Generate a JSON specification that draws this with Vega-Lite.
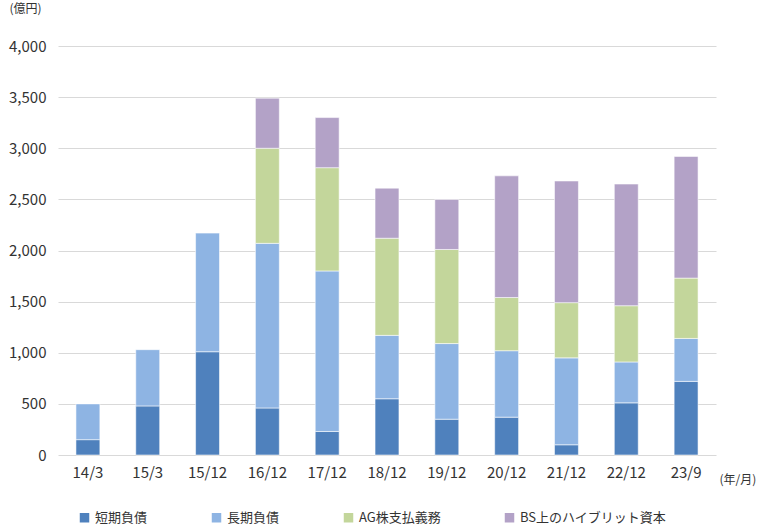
{
  "$schema": "https://vega.github.io/schema/vega-lite/v6.json",
  "width": 658,
  "height": 409,
  "autosize": {"type": "none"},
  "padding": {"left": 58, "top": 46, "right": 44, "bottom": 77},
  "background": "white",
  "config": {
    "view": {"stroke": null},
    "font": "Noto Sans CJK JP"
  },
  "data": {
    "values": [
      {"period": "14/3", "type": "短期負債", "k": 1, "value": 150},
      {"period": "14/3", "type": "長期負債", "k": 2, "value": 350},
      {"period": "15/3", "type": "短期負債", "k": 1, "value": 480},
      {"period": "15/3", "type": "長期負債", "k": 2, "value": 550},
      {"period": "15/12", "type": "短期負債", "k": 1, "value": 1010},
      {"period": "15/12", "type": "長期負債", "k": 2, "value": 1160},
      {"period": "16/12", "type": "短期負債", "k": 1, "value": 460},
      {"period": "16/12", "type": "長期負債", "k": 2, "value": 1610},
      {"period": "16/12", "type": "AG株支払義務", "k": 3, "value": 930},
      {"period": "16/12", "type": "BS上のハイブリット資本", "k": 4, "value": 490},
      {"period": "17/12", "type": "短期負債", "k": 1, "value": 230},
      {"period": "17/12", "type": "長期負債", "k": 2, "value": 1570},
      {"period": "17/12", "type": "AG株支払義務", "k": 3, "value": 1010},
      {"period": "17/12", "type": "BS上のハイブリット資本", "k": 4, "value": 490},
      {"period": "18/12", "type": "短期負債", "k": 1, "value": 550},
      {"period": "18/12", "type": "長期負債", "k": 2, "value": 620},
      {"period": "18/12", "type": "AG株支払義務", "k": 3, "value": 950},
      {"period": "18/12", "type": "BS上のハイブリット資本", "k": 4, "value": 490},
      {"period": "19/12", "type": "短期負債", "k": 1, "value": 350},
      {"period": "19/12", "type": "長期負債", "k": 2, "value": 740},
      {"period": "19/12", "type": "AG株支払義務", "k": 3, "value": 920},
      {"period": "19/12", "type": "BS上のハイブリット資本", "k": 4, "value": 490},
      {"period": "20/12", "type": "短期負債", "k": 1, "value": 370},
      {"period": "20/12", "type": "長期負債", "k": 2, "value": 650},
      {"period": "20/12", "type": "AG株支払義務", "k": 3, "value": 520},
      {"period": "20/12", "type": "BS上のハイブリット資本", "k": 4, "value": 1190},
      {"period": "21/12", "type": "短期負債", "k": 1, "value": 100},
      {"period": "21/12", "type": "長期負債", "k": 2, "value": 850},
      {"period": "21/12", "type": "AG株支払義務", "k": 3, "value": 540},
      {"period": "21/12", "type": "BS上のハイブリット資本", "k": 4, "value": 1190},
      {"period": "22/12", "type": "短期負債", "k": 1, "value": 510},
      {"period": "22/12", "type": "長期負債", "k": 2, "value": 400},
      {"period": "22/12", "type": "AG株支払義務", "k": 3, "value": 550},
      {"period": "22/12", "type": "BS上のハイブリット資本", "k": 4, "value": 1190},
      {"period": "23/9", "type": "短期負債", "k": 1, "value": 720},
      {"period": "23/9", "type": "長期負債", "k": 2, "value": 420},
      {"period": "23/9", "type": "AG株支払義務", "k": 3, "value": 590},
      {"period": "23/9", "type": "BS上のハイブリット資本", "k": 4, "value": 1190}
    ]
  },
  "mark": {"type": "bar", "stroke": "white", "strokeWidth": 0.8, "strokeOpacity": 0.7},
  "encoding": {
    "x": {
      "field": "period",
      "type": "nominal",
      "sort": null,
      "scale": {"paddingInner": 0.6, "paddingOuter": 0.3},
      "axis": {
        "title": "(年/月)",
        "titleX": 661,
        "titleY": 24,
        "titleAlign": "left",
        "titleBaseline": "middle",
        "titleFontSize": 12,
        "titleFontWeight": "normal",
        "titleColor": "#333333",
        "labelAngle": 0,
        "labelFontSize": 15,
        "labelColor": "#333333",
        "labelPadding": 10,
        "domain": false,
        "ticks": false
      }
    },
    "y": {
      "field": "value",
      "type": "quantitative",
      "stack": "zero",
      "scale": {"domain": [0, 4000]},
      "axis": {
        "values": [0, 500, 1000, 1500, 2000, 2500, 3000, 3500, 4000],
        "format": ",d",
        "title": "(億円)",
        "titleAngle": 0,
        "titleX": -49,
        "titleY": -38,
        "titleAlign": "left",
        "titleBaseline": "middle",
        "titleFontSize": 12,
        "titleFontWeight": "normal",
        "titleColor": "#333333",
        "labelFontSize": 15,
        "labelColor": "#333333",
        "labelPadding": 12,
        "domain": false,
        "ticks": false,
        "gridColor": "#d9d9d9",
        "gridWidth": 1
      }
    },
    "color": {
      "field": "type",
      "type": "nominal",
      "sort": ["短期負債", "長期負債", "AG株支払義務", "BS上のハイブリット資本"],
      "scale": {
        "domain": ["短期負債", "長期負債", "AG株支払義務", "BS上のハイブリット資本"],
        "range": ["#4f81bd", "#8eb4e3", "#c3d69b", "#b3a2c7"]
      },
      "legend": {
        "orient": "none",
        "legendX": 20,
        "legendY": 465,
        "direction": "horizontal",
        "title": null,
        "symbolType": "square",
        "symbolSize": 90,
        "symbolStrokeWidth": 0,
        "labelFontSize": 13,
        "labelColor": "#333333",
        "labelOffset": 4,
        "columnPadding": 62
      }
    },
    "order": {"field": "k", "type": "quantitative", "sort": "ascending"}
  }
}
